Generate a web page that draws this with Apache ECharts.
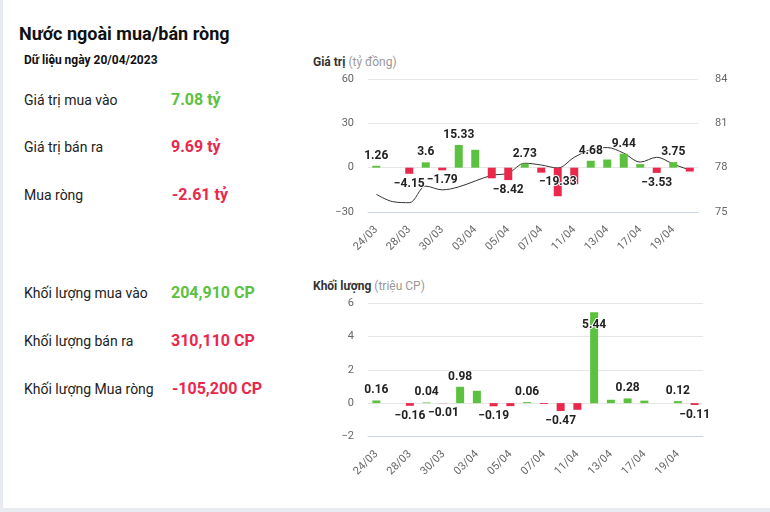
<!DOCTYPE html>
<html><head><meta charset="utf-8">
<script src="https://cdn.jsdelivr.net/npm/echarts@6/dist/echarts.min.js"></script>
<style>
body{margin:0;width:770px;height:512px;background:#e8ebef;font-family:Roboto,Arial,sans-serif;overflow:hidden;position:relative}
#panel{position:absolute;left:3px;top:0;width:767px;height:508px;background:#fff}
#chart{position:absolute;left:0;top:0;width:770px;height:512px}
.t{position:absolute;white-space:nowrap;color:#222}
.h1{left:19px;top:24px;font-size:18px;line-height:20px;font-weight:bold;color:#111}
.h2{left:24px;top:52.5px;font-size:12px;line-height:14px;font-weight:bold;color:#111}
.lb{left:24px;font-size:14px;line-height:16px;color:#222}
.v{font-size:16px;line-height:18px;font-weight:bold}
.g{color:#5cc13f}.r{color:#e9284c}
.ct{left:313px;font-size:12px;line-height:14px;font-weight:bold;color:#333}
.ct span{font-weight:normal;color:#999}
</style></head>
<body>
<div id="panel"></div>
<div class="t h1">Nước ngoài mua/bán ròng</div>
<div class="t h2">Dữ liệu ngày 20/04/2023</div>
<div class="t lb" style="top:91.5px">Giá trị mua vào</div>
<div class="t v g" style="left:171px;top:90.5px">7.08 tỷ</div>
<div class="t lb" style="top:139px">Giá trị bán ra</div>
<div class="t v r" style="left:171px;top:138px">9.69 tỷ</div>
<div class="t lb" style="top:187px">Mua ròng</div>
<div class="t v r" style="left:172px;top:186px">-2.61 tỷ</div>
<div class="t lb" style="top:285.3px">Khối lượng mua vào</div>
<div class="t v g" style="left:171px;top:284.3px">204,910 CP</div>
<div class="t lb" style="top:333px">Khối lượng bán ra</div>
<div class="t v r" style="left:171px;top:332px">310,110 CP</div>
<div class="t lb" style="top:380.7px">Khối lượng Mua ròng</div>
<div class="t v r" style="left:172px;top:379.7px">-105,200 CP</div>
<div class="t ct" style="top:55px">Giá trị <span>(tỷ đồng)</span></div>
<div class="t ct" style="top:279px">Khối lượng <span>(triệu CP)</span></div>
<div id="chart"></div>
<script>
const categories = ['24/03','27/03','28/03','29/03','30/03','31/03','03/04','04/04','05/04','06/04','07/04','10/04','11/04','12/04','13/04','14/04','17/04','18/04','19/04','20/04'];
const netValue = [1.26, 0, -4.15, 3.6, -1.79, 15.33, 12.1, -7.2, -8.42, 2.73, -3.4, -19.33, -11.2, 4.68, 5.5, 9.44, 2.4, -3.53, 3.75, -2.61];
const price = [76.2, 75.7, 75.63, 76.75, 76.5, 76.7, 77.1, 77.48, 77.63, 78.3, 78.18, 77.98, 78.7, 79.22, 79.36, 78.98, 78.38, 78.7, 78.24, 77.84];
const netVolume = [0.16, 0, -0.16, 0.04, -0.01, 0.98, 0.74, -0.19, -0.18, 0.06, -0.05, -0.47, -0.4, 5.44, 0.2, 0.28, 0.15, 0, 0.12, -0.11];
const valueTicks = {min: -30, max: 60, interval: 30};
const priceTicks = {min: 75, max: 84, interval: 3};
const volumeTicks = {min: -2, max: 6, interval: 2};
const valueLabelIdx = [0,2,3,4,5,8,9,11,13,15,17,18];
const volumeLabelIdx = [0,2,3,4,5,7,9,11,13,15,18,19];

const GREEN = '#5cc13f', RED = '#e9284c';
const fmt = v => String(v).replace('-', '\u2212');
function barData(vals, showIdx, special) {
  return vals.map((v, i) => {
    let pos = v >= 0 ? 'top' : 'bottom';
    let dist = 4;
    if (special[i]) { pos = special[i]; dist = 7; }
    return {
      value: v,
      itemStyle: {color: v >= 0 ? GREEN : RED},
      label: {show: showIdx.indexOf(i) >= 0, position: pos, distance: dist}
    };
  });
}
const labelStyle = {
  formatter: p => fmt(p.value), fontSize: 12, fontWeight: 'bold', color: '#222',
  textBorderColor: '#fff', textBorderWidth: 2, fontFamily: 'Roboto, Arial'
};
const xAxisCommon = {
  type: 'category', data: categories, boundaryGap: true,
  axisLine: {onZero: false, lineStyle: {color: '#ccd6eb'}},
  axisTick: {show: false},
  axisLabel: {interval: 1, rotate: 45, color: '#666', fontSize: 11, margin: 16, fontFamily: 'Roboto, Arial'}
};
const yCommon = {
  type: 'value',
  splitLine: {lineStyle: {color: '#e6e6e6'}},
  axisLine: {show: false}, axisTick: {show: false},
  axisLabel: {color: '#666', fontSize: 11, margin: 14, formatter: v => fmt(v), fontFamily: 'Roboto, Arial'}
};
const chart = echarts.init(document.getElementById('chart'), null, {renderer: 'canvas'});
chart.setOption({
  animation: false,
  grid: [
    {left: 368, right: 72, top: 79, bottom: 300},
    {left: 368, right: 67, top: 303, bottom: 75.5}
  ],
  xAxis: [
    Object.assign({gridIndex: 0}, xAxisCommon),
    Object.assign({gridIndex: 1}, xAxisCommon)
  ],
  yAxis: [
    Object.assign({gridIndex: 0}, yCommon, valueTicks),
    Object.assign({gridIndex: 0}, yCommon, priceTicks, {position: 'right', splitLine: {show: false}, axisLabel: {color: '#666', fontSize: 11, margin: 17, fontFamily: 'Roboto, Arial'}}),
    Object.assign({gridIndex: 1}, yCommon, volumeTicks)
  ],
  series: [
    {type: 'bar', xAxisIndex: 0, yAxisIndex: 0, barWidth: 8, data: barData(netValue, valueLabelIdx, {11: 'inside'}), label: labelStyle, z: 2},
    {type: 'line', xAxisIndex: 0, yAxisIndex: 1, data: price, smooth: 0.35, showSymbol: false, lineStyle: {color: '#333', width: 1}, z: 1},
    {type: 'bar', xAxisIndex: 1, yAxisIndex: 2, barWidth: 8, data: barData(netVolume, volumeLabelIdx, {13: 'insideTop'}), label: labelStyle}
  ]
});
</script>
</body></html>
